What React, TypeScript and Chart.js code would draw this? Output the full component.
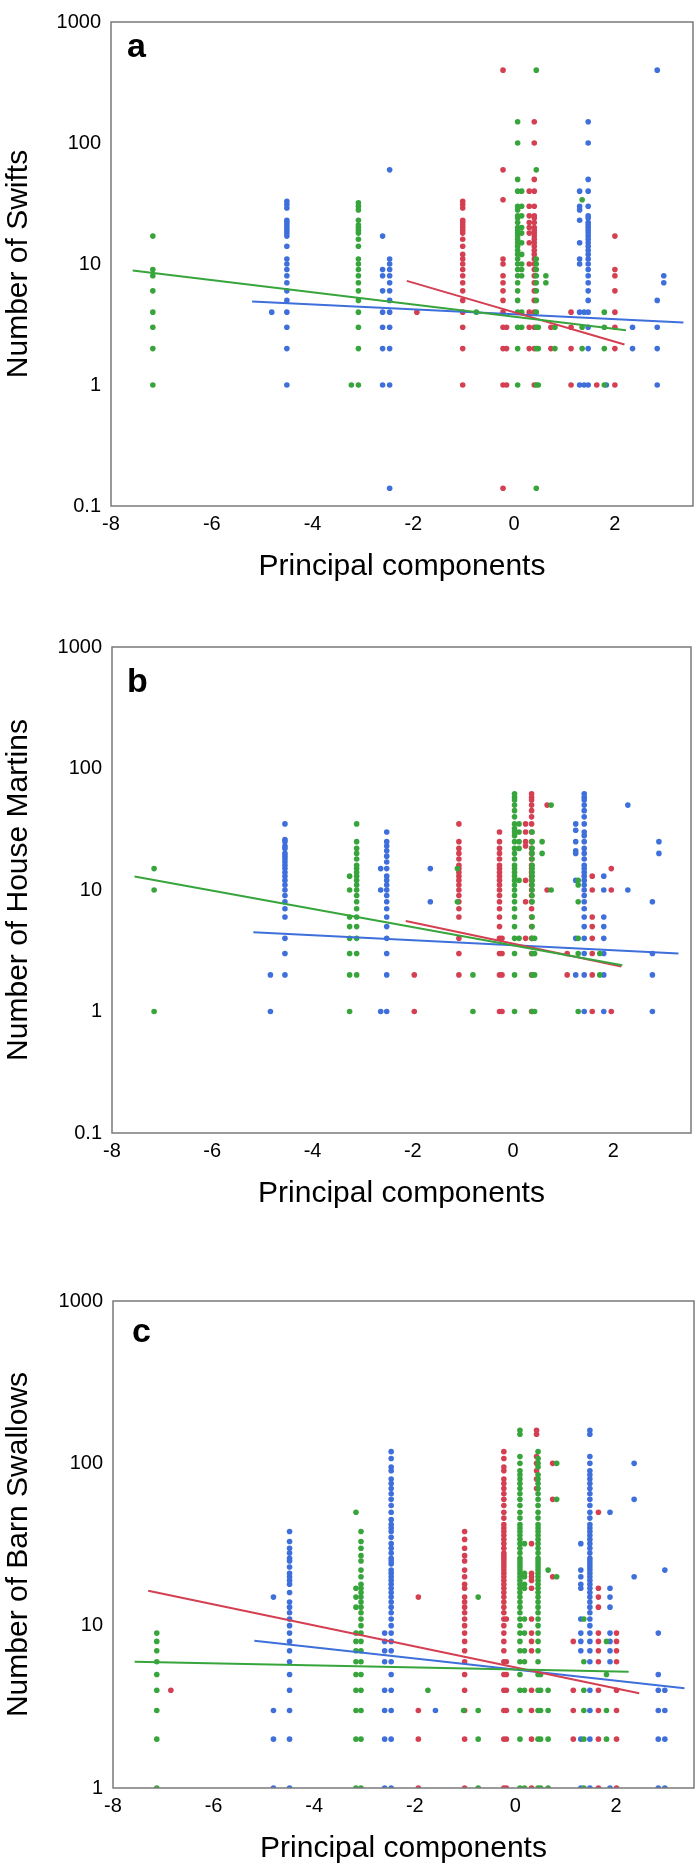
import React, { useEffect, useRef } from "react";
import { Chart, registerables } from "chart.js";
Chart.register(...registerables);

type Col = [number, number[]];
type Fit = [number, number][];

// ---- axes ----
const X_MIN = -8;
const X_MAX = 3.55;
const xTickValues = [-8, -6, -4, -2, 0, 2];
const yTicksSwift = [0.1, 1, 10, 100, 1000];
const yTicksMartin = [0.1, 1, 10, 100, 1000];
const yTicksSwallow = [1, 10, 100, 1000];
const xTitle = "Principal components";

// ---- panel a: Swifts ----
const swiftGreen: Col[] = [
  [-7.17, [17, 9, 8, 6, 4, 3, 2, 1]],
  [-3.23, [1]],
  [-3.09, [32, 30, 28, 23, 21, 20, 19, 18, 16, 14, 11, 10, 9, 8, 7, 6, 5, 4, 3, 2, 1]],
  [-0.75, [4]],
  [0.07, [150, 100, 50, 40, 30, 28, 25, 24, 22, 20, 19, 18, 17, 16, 15, 14, 13, 12, 11, 10, 9, 8, 7, 6, 5, 4, 3, 2, 1]],
  [0.15, [40, 30, 25, 20, 18, 15, 12, 10, 9, 8, 4, 3]],
  [0.44, [400, 60, 11, 10, 9, 8, 7, 6, 5, 4, 3, 2, 1, 0.14]],
  [0.48, [3, 2, 1]],
  [0.63, [8, 7]],
  [0.81, [3, 2]],
  [1.35, [34, 3, 2]],
  [1.79, [4, 3, 2, 1]],
];
const swiftRed: Col[] = [
  [-1.93, [4]],
  [-1.02, [33, 31, 29, 23, 22, 21, 20, 19, 18, 16, 14, 12, 11, 10, 9, 8, 7, 6, 5, 4, 3, 2, 1]],
  [-0.22, [400, 60, 34, 11, 10, 8, 7, 6, 5, 4, 3, 2, 1, 0.14]],
  [-0.15, [3, 2, 1]],
  [0.3, [40, 30, 25, 22, 20, 18, 15, 10, 4, 3, 2]],
  [0.4, [150, 100, 50, 40, 30, 25, 24, 22, 20, 19, 18, 17, 16, 15, 14, 13, 12, 11, 10, 9, 8, 7, 6, 5, 4, 3, 2, 1]],
  [0.73, [3, 2]],
  [1.13, [4, 3, 2, 1]],
  [1.64, [1]],
  [2.0, [17, 9, 8, 6, 4, 3, 2, 1]],
];
const swiftBlue: Col[] = [
  [-4.81, [4]],
  [-4.51, [33, 31, 29, 23, 22, 21, 20, 19, 18, 17, 14, 11, 10, 9, 8, 7, 6, 5, 4, 3, 2, 1]],
  [-2.61, [17, 9, 8, 6, 4, 3, 2, 1]],
  [-2.47, [60, 11, 10, 9, 8, 7, 6, 5, 4, 3, 2, 1, 0.14]],
  [1.3, [40, 30, 28, 23, 15, 11, 10, 4, 1]],
  [1.39, [4, 1]],
  [1.47, [150, 100, 50, 40, 30, 25, 24, 22, 21, 20, 19, 18, 17, 16, 15, 14, 13, 12, 11, 10, 9, 8, 7, 6, 5, 4, 3, 2, 1]],
  [1.83, [1]],
  [2.35, [3, 2]],
  [2.84, [400, 5, 3, 2, 1]],
  [2.97, [8, 7]],
];
const swiftGreenFit: Fit = [[-7.57, 8.85], [2.22, 2.83]];
const swiftRedFit: Fit = [[-2.13, 7.25], [2.19, 2.16]];
const swiftBlueFit: Fit = [[-5.2, 4.89], [3.36, 3.29]];

// ---- panel b: House Martins ----
const martinGreen: Col[] = [
  [-7.16, [15, 10, 1]],
  [-3.26, [13, 10, 6, 5, 4, 3, 2, 1]],
  [-3.12, [35, 25, 22, 20, 18, 16, 15, 14, 13, 12, 11, 10, 9, 8, 7, 6, 5, 4, 3, 2]],
  [-1.11, [15, 8]],
  [-0.8, [2, 1]],
  [0.03, [62, 58, 55, 50, 45, 40, 35, 32, 30, 28, 25, 22, 20, 18, 16, 15, 14, 13, 12, 11, 10, 9, 8, 7, 6, 5, 4, 3, 2, 1]],
  [0.12, [35, 30, 25, 22, 12, 4]],
  [0.38, [30, 25, 22, 20, 18, 16, 15, 14, 13, 12, 11, 10, 9, 8, 6, 5, 4, 3, 2, 1]],
  [0.43, [4, 3, 2, 1]],
  [0.58, [25, 20]],
  [0.76, [50, 10]],
  [1.3, [12, 11, 8, 4, 3, 1]],
  [1.73, [3, 2]],
];
const martinRed: Col[] = [
  [-1.97, [2, 1]],
  [-1.08, [35, 25, 22, 20, 18, 16, 15, 14, 13, 12, 11, 10, 9, 8, 7, 6, 4, 3, 2]],
  [-0.27, [30, 25, 22, 20, 18, 16, 15, 14, 13, 12, 11, 10, 9, 8, 7, 6, 5, 4, 3, 2, 1]],
  [-0.22, [4, 3, 2, 1]],
  [0.25, [35, 30, 25, 23, 12, 8, 4]],
  [0.37, [62, 58, 55, 50, 45, 40, 35, 30, 25, 22, 20, 18, 16, 15, 14, 13, 12, 11, 10, 9, 8, 7, 6, 5, 4, 3, 2, 1]],
  [0.68, [50, 10]],
  [1.08, [3, 2]],
  [1.58, [13, 10, 6, 5, 4, 3, 2, 1]],
  [1.96, [15, 10, 1]],
];
const martinBlue: Col[] = [
  [-4.84, [2, 1]],
  [-4.55, [35, 26, 25, 23, 22, 20, 19, 18, 17, 16, 15, 14, 13, 12, 11, 10, 9, 8, 7, 6, 4, 3, 2]],
  [-2.64, [15, 10, 1]],
  [-2.52, [30, 25, 23, 21, 19, 17, 15, 13, 12, 11, 10, 9, 8, 7, 6, 5, 4, 3, 2, 1]],
  [-1.65, [15, 8]],
  [1.25, [35, 31, 25, 21, 20, 12, 4, 2]],
  [1.42, [62, 58, 55, 50, 45, 40, 35, 30, 28, 25, 22, 20, 18, 16, 15, 14, 13, 12, 11, 10, 9, 8, 7, 6, 5, 4, 3, 2, 1]],
  [1.81, [13, 10, 6, 5, 4, 3, 2, 1]],
  [2.29, [50, 10]],
  [2.78, [8, 3, 2, 1]],
  [2.91, [25, 20]],
];
const martinGreenFit: Fit = [[-7.55, 12.9], [2.18, 2.4]];
const martinRedFit: Fit = [[-2.14, 5.55], [2.16, 2.35]];
const martinBlueFit: Fit = [[-5.18, 4.5], [3.3, 3.0]];

// ---- panel c: Barn Swallows ----
const swallowGreen: Col[] = [
  [-7.13, [9, 8, 7, 6, 5, 4, 3, 2, 1]],
  [-3.17, [50, 17, 15, 13, 9, 8, 7, 6, 5, 4, 3, 2, 1]],
  [-3.07, [38, 33, 30, 27, 25, 22, 20, 18, 17, 16, 15, 14, 13, 12, 11, 10, 9, 8, 7, 6, 5, 4, 3, 2, 1]],
  [-1.74, [4]],
  [-1.03, [3]],
  [-0.74, [15, 3, 2, 1]],
  [0.09, [160, 151, 110, 100, 90, 85, 80, 75, 70, 65, 60, 55, 50, 46, 42, 40, 38, 36, 34, 32, 30, 28, 26, 25, 24, 23, 22, 21, 20, 19, 18, 17, 16, 15, 14, 13, 12, 11, 10, 9, 8, 7, 6, 5, 4, 3, 2, 1]],
  [0.18, [32, 21, 20, 18, 17, 11, 9, 7, 6, 4, 1]],
  [0.45, [118, 107, 100, 95, 85, 80, 75, 70, 65, 60, 55, 50, 46, 42, 40, 38, 36, 34, 32, 30, 28, 26, 25, 24, 23, 22, 21, 20, 19, 18, 17, 16, 15, 14, 13, 12, 11, 10, 9, 8, 7, 6, 5, 4, 3, 2, 1]],
  [0.5, [5, 4, 3, 2, 1]],
  [0.65, [22, 4, 3, 2, 1]],
  [0.82, [100, 60, 20]],
  [1.36, [11, 6, 4, 3, 2, 1]],
  [1.81, [8, 5, 3, 2]],
];
const swallowRed: Col[] = [
  [-6.85, [4]],
  [-1.93, [15, 3, 2, 1]],
  [-1.01, [38, 34, 30, 27, 25, 22, 20, 18, 17, 15, 14, 13, 12, 11, 10, 9, 8, 7, 6, 5, 4, 3, 2, 1]],
  [-0.23, [118, 107, 95, 90, 80, 75, 70, 65, 60, 55, 50, 46, 42, 40, 38, 36, 34, 32, 30, 28, 27, 26, 25, 24, 23, 22, 21, 20, 19, 18, 17, 16, 15, 14, 13, 12, 11, 10, 9, 8, 7, 6, 5, 4, 3, 2, 1]],
  [-0.18, [11, 6, 5, 4, 3, 2, 1]],
  [0.32, [32, 21, 20, 19, 17, 11, 9, 8, 7, 4, 3, 2, 1]],
  [0.42, [160, 151, 110, 100, 90, 80, 70]],
  [0.74, [100, 60, 20]],
  [1.15, [8, 4, 3, 2]],
  [1.65, [50, 17, 15, 13, 9, 8, 7, 6, 4, 3, 2, 1]],
  [2.01, [9, 8, 7, 6, 4, 3, 2, 1]],
];
const swallowBlue: Col[] = [
  [-4.81, [15, 3, 2, 1]],
  [-4.49, [38, 33, 30, 28, 26, 25, 23, 21, 20, 19, 18, 16, 14, 13, 12, 11, 10, 9, 8, 7, 6, 5, 4, 3, 2, 1]],
  [-2.6, [9, 8, 7, 6, 4, 3, 2, 1]],
  [-2.47, [118, 107, 95, 90, 80, 75, 70, 65, 60, 55, 50, 45, 42, 40, 38, 35, 32, 30, 28, 26, 25, 24, 22, 21, 20, 19, 18, 17, 16, 15, 14, 13, 12, 11, 10, 9, 8, 7, 6, 5, 4, 3, 2, 1]],
  [-1.59, [3]],
  [1.3, [32, 22, 20, 18, 17, 11, 9, 8, 7, 2, 1]],
  [1.48, [160, 151, 110, 100, 90, 85, 80, 75, 70, 65, 60, 55, 50, 46, 42, 40, 38, 36, 34, 32, 30, 28, 26, 25, 24, 23, 22, 21, 20, 19, 18, 17, 16, 15, 14, 13, 12, 11, 10, 9, 8, 7, 6, 4, 3, 2, 1]],
  [1.88, [50, 17, 15, 13, 9, 8, 7, 6, 1]],
  [2.36, [100, 60, 20]],
  [2.84, [9, 5, 4, 3, 2, 1]],
  [2.97, [22, 4, 3, 2, 1]],
];
const swallowRedFit: Fit = [[-7.3, 16.4], [2.46, 3.83]];
const swallowBlueFit: Fit = [[-5.19, 8.07], [3.36, 4.11]];
const swallowGreenFit: Fit = [[-7.57, 6.0], [2.25, 5.2]];

// ---- styles ----
const BLUE = "#3e6fdb";
const RED = "#d43f52";
const GREEN = "#37a53c";
const FONT = "'Liberation Sans', Arial, Helvetica, sans-serif";

interface PanelSpec {
  letter: string;
  yTitle: string;
  yTicks: number[];
  green: Col[];
  red: Col[];
  blue: Col[];
  greenFit: Fit;
  redFit: Fit;
  blueFit: Fit;
  top: number;
  height: number;
  padTop: number;
  yW: number;
  padRight: number;
  xH: number;
  letterDx: number;
  letterDy: number;
}

const PANELS: PanelSpec[] = [
  {
    letter: "a", yTitle: "Number of Swifts", yTicks: yTicksSwift,
    green: swiftGreen, red: swiftRed, blue: swiftBlue,
    greenFit: swiftGreenFit, redFit: swiftRedFit, blueFit: swiftBlueFit,
    top: 0, height: 620, padTop: 16, yW: 111, padRight: 7, xH: 114, letterDx: 16, letterDy: 35,
  },
  {
    letter: "b", yTitle: "Number of House Martins", yTicks: yTicksMartin,
    green: martinGreen, red: martinRed, blue: martinBlue,
    greenFit: martinGreenFit, redFit: martinRedFit, blueFit: martinBlueFit,
    top: 620, height: 630, padTop: 27, yW: 112, padRight: 9, xH: 117, letterDx: 15, letterDy: 45,
  },
  {
    letter: "c", yTitle: "Number of Barn Swallows", yTicks: yTicksSwallow,
    green: swallowGreen, red: swallowRed, blue: swallowBlue,
    greenFit: swallowGreenFit, redFit: swallowRedFit, blueFit: swallowBlueFit,
    top: 1250, height: 620, padTop: 51, yW: 113, padRight: 6, xH: 82, letterDx: 19, letterDy: 41,
  },
];

function expand(cols: Col[]) {
  return cols.flatMap(([x, ys]) => ys.map((y) => ({ x, y })));
}
function fitPts(f: Fit) {
  return f.map(([x, y]) => ({ x, y }));
}

function Panel({ spec }: { spec: PanelSpec }) {
  const ref = useRef<HTMLCanvasElement>(null);
  useEffect(() => {
    const s = spec;
    const canvas = ref.current!;
    const decor = {
      id: "decor" + s.letter,
      afterDraw(chart: any) {
        const { ctx, chartArea: a } = chart;
        ctx.save();
        ctx.strokeStyle = "#7a7a7a";
        ctx.lineWidth = 1.5;
        ctx.strokeRect(a.left, a.top, a.right - a.left, a.bottom - a.top);
        ctx.fillStyle = "#000";
        ctx.font = `30px ${FONT}`;
        ctx.textAlign = "center";
        ctx.textBaseline = "alphabetic";
        ctx.fillText(xTitle, (a.left + a.right) / 2, a.bottom + 69);
        ctx.translate(26.5, (a.top + a.bottom) / 2);
        ctx.rotate(-Math.PI / 2);
        ctx.fillText(s.yTitle, 0, 0);
        ctx.restore();
        ctx.save();
        ctx.fillStyle = "#000";
        ctx.font = `bold 34px ${FONT}`;
        ctx.textAlign = "left";
        ctx.textBaseline = "alphabetic";
        ctx.fillText(s.letter, a.left + s.letterDx, a.top + s.letterDy);
        ctx.restore();
      },
    };
    const line = (f: Fit, c: string) => ({
      data: fitPts(f),
      showLine: true,
      borderColor: c,
      backgroundColor: c,
      borderWidth: 2,
      pointRadius: 0,
      pointHoverRadius: 0,
    });
    const pts = (cols: Col[], c: string) => ({
      data: expand(cols),
      showLine: false,
      backgroundColor: c,
      borderColor: c,
      borderWidth: 0,
      pointRadius: 2.8,
      pointBorderWidth: 0,
      clip: 0,
    });
    const chart = new Chart(canvas, {
      type: "scatter",
      data: {
        datasets: [
          line(s.greenFit, GREEN),
          line(s.redFit, RED),
          line(s.blueFit, BLUE),
          pts(s.green, GREEN),
          pts(s.red, RED),
          pts(s.blue, BLUE),
        ] as any,
      },
      options: {
        responsive: false,
        animation: false,
        events: [],
        layout: { padding: { top: s.padTop, right: s.padRight, left: 0, bottom: 0 } },
        plugins: { legend: { display: false }, tooltip: { enabled: false }, title: { display: false } },
        scales: {
          x: {
            type: "linear",
            min: X_MIN,
            max: X_MAX,
            grid: { display: false, drawTicks: false },
            border: { display: false },
            afterBuildTicks: (scale: any) => {
              scale.ticks = xTickValues.map((v) => ({ value: v }));
            },
            afterFit: (scale: any) => {
              scale.height = s.xH;
            },
            ticks: {
              autoSkip: false,
              maxRotation: 0,
              padding: 6,
              color: "#000",
              font: { family: FONT, size: 20 },
              callback: (v: any) => String(v),
            },
          },
          y: {
            type: "logarithmic",
            min: s.yTicks[0],
            max: s.yTicks[s.yTicks.length - 1],
            grid: { display: false, drawTicks: false },
            border: { display: false },
            afterBuildTicks: (scale: any) => {
              scale.ticks = s.yTicks.map((v) => ({ value: v }));
            },
            afterFit: (scale: any) => {
              scale.width = s.yW;
            },
            ticks: {
              autoSkip: false,
              padding: 10,
              color: "#000",
              font: { family: FONT, size: 20 },
              callback: (v: any) => String(v),
            },
          },
        },
      } as any,
      plugins: [decor],
    });
    return () => chart.destroy();
  }, [spec]);
  return (
    <canvas
      ref={ref}
      width={700}
      height={spec.height}
      style={{ position: "absolute", left: 0, top: spec.top, width: 700, height: spec.height }}
    />
  );
}

export default function App() {
  return (
    <div style={{ position: "absolute", left: 0, top: 0, width: 700, height: 1870, background: "#fff" }}>
      {PANELS.map((p) => (
        <Panel key={p.letter} spec={p} />
      ))}
    </div>
  );
}
